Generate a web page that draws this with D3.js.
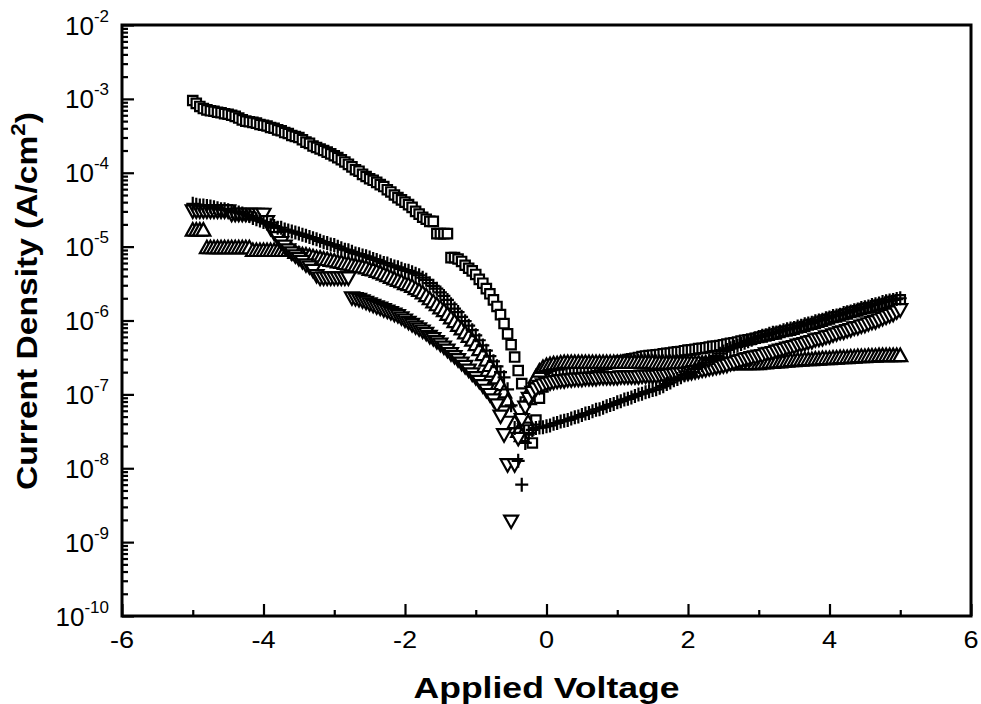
<!DOCTYPE html>
<html><head><meta charset="utf-8">
<script src="https://cdn.jsdelivr.net/npm/d3@7/dist/d3.min.js"></script>
<style>
body{margin:0;background:#fff}
svg{display:block}
text{font-family:"Liberation Sans",Arial,Helvetica,sans-serif;fill:#000}
</style>
</head><body>
<svg id="chart" width="981" height="704"></svg>
<script>
// Applied voltage sweep (V), -5 V to +5 V in 0.05 V steps
const voltage = d3.range(201).map(i => +(-5 + i * 0.05).toFixed(2));

// Current density (A/cm^2), one value per voltage
const squareJ = [
  9.5e-4,8.7e-4,7.9e-4,7.4e-4,7.1e-4,6.9e-4,6.8e-4,6.6e-4,6.5e-4,6.3e-4,6.2e-4,6.0e-4,5.8e-4,5.5e-4,5.2e-4,5.0e-4,4.9e-4,4.8e-4,4.7e-4,4.5e-4,
  4.4e-4,4.3e-4,4.1e-4,4.0e-4,3.8e-4,3.7e-4,3.5e-4,3.4e-4,3.2e-4,3.1e-4,3.0e-4,2.8e-4,2.6e-4,2.5e-4,2.3e-4,2.2e-4,2.1e-4,2.0e-4,1.9e-4,1.8e-4,
  1.7e-4,1.6e-4,1.5e-4,1.4e-4,1.3e-4,1.2e-4,1.1e-4,1.05e-4,9.5e-5,8.9e-5,8.3e-5,7.9e-5,7.4e-5,6.9e-5,6.5e-5,5.9e-5,5.5e-5,5.0e-5,4.6e-5,4.3e-5,
  4.0e-5,3.7e-5,3.4e-5,3.0e-5,2.75e-5,2.5e-5,2.35e-5,2.2e-5,2.2e-5,1.5e-5,1.5e-5,1.5e-5,1.5e-5,7.1e-6,7.1e-6,6.8e-6,6.3e-6,5.6e-6,5.1e-6,4.7e-6,
  4.2e-6,3.6e-6,3.2e-6,2.7e-6,2.3e-6,1.9e-6,1.55e-6,1.2e-6,9.1e-7,6.6e-7,4.7e-7,3.2e-7,2.1e-7,1.4e-7,7.9e-8,3.3e-8,2.2e-8,4.5e-8,8.9e-8,1.26e-7,
  1.51e-7,1.62e-7,1.74e-7,1.82e-7,1.91e-7,1.95e-7,2.0e-7,2.04e-7,2.09e-7,2.14e-7,2.19e-7,2.24e-7,2.29e-7,2.34e-7,2.4e-7,2.45e-7,2.5e-7,2.57e-7,2.63e-7,2.69e-7,
  2.75e-7,2.82e-7,2.88e-7,2.95e-7,3.02e-7,3.09e-7,3.16e-7,3.24e-7,3.31e-7,3.35e-7,3.39e-7,3.43e-7,3.47e-7,3.55e-7,3.6e-7,3.63e-7,3.72e-7,3.76e-7,3.8e-7,3.9e-7,
  3.98e-7,4.0e-7,4.07e-7,4.17e-7,4.2e-7,4.27e-7,4.37e-7,4.47e-7,4.5e-7,4.57e-7,4.68e-7,4.79e-7,4.9e-7,5.0e-7,5.1e-7,5.25e-7,5.4e-7,5.5e-7,5.6e-7,5.75e-7,
  5.9e-7,6.0e-7,6.2e-7,6.3e-7,6.5e-7,6.6e-7,6.9e-7,7.1e-7,7.2e-7,7.4e-7,7.6e-7,7.9e-7,8.1e-7,8.3e-7,8.7e-7,8.9e-7,9.1e-7,9.5e-7,9.8e-7,1.02e-6,
  1.05e-6,1.1e-6,1.12e-6,1.15e-6,1.2e-6,1.23e-6,1.29e-6,1.32e-6,1.35e-6,1.41e-6,1.45e-6,1.48e-6,1.51e-6,1.58e-6,1.62e-6,1.66e-6,1.7e-6,1.78e-6,1.82e-6,1.86e-6,
  1.9e-6
];
const plusJ = [
  3.8e-5,3.7e-5,3.6e-5,3.6e-5,3.55e-5,3.5e-5,3.4e-5,3.3e-5,3.2e-5,3.2e-5,3.1e-5,3.0e-5,2.95e-5,2.9e-5,2.8e-5,2.7e-5,2.6e-5,2.45e-5,2.35e-5,2.25e-5,
  2.15e-5,2.05e-5,1.95e-5,1.9e-5,1.8e-5,1.8e-5,1.7e-5,1.65e-5,1.6e-5,1.55e-5,1.5e-5,1.45e-5,1.4e-5,1.35e-5,1.3e-5,1.26e-5,1.2e-5,1.15e-5,1.12e-5,1.07e-5,
  1.05e-5,1.0e-5,9.5e-6,9.1e-6,8.9e-6,8.5e-6,8.1e-6,7.9e-6,7.6e-6,7.4e-6,7.1e-6,6.8e-6,6.6e-6,6.3e-6,6.0e-6,5.9e-6,5.6e-6,5.4e-6,5.25e-6,5.0e-6,
  4.8e-6,4.7e-6,4.5e-6,4.3e-6,4.1e-6,3.8e-6,3.55e-6,3.2e-6,2.95e-6,2.7e-6,2.4e-6,2.15e-6,1.9e-6,1.66e-6,1.45e-6,1.3e-6,1.12e-6,9.8e-7,8.5e-7,7.4e-7,
  6.3e-7,5.4e-7,4.6e-7,3.9e-7,3.3e-7,2.8e-7,2.4e-7,2.0e-7,1.7e-7,1.17e-7,7.1e-8,3.5e-8,1.26e-8,6.0e-9,2.2e-8,3.0e-8,3.3e-8,3.5e-8,3.55e-8,3.6e-8,
  3.7e-8,3.8e-8,4.0e-8,4.1e-8,4.3e-8,4.4e-8,4.5e-8,4.7e-8,4.9e-8,5.0e-8,5.25e-8,5.5e-8,5.6e-8,5.9e-8,6.2e-8,6.3e-8,6.6e-8,6.9e-8,7.2e-8,7.4e-8,
  7.8e-8,8.1e-8,8.5e-8,8.7e-8,9.1e-8,9.5e-8,1.0e-7,1.02e-7,1.07e-7,1.1e-7,1.15e-7,1.17e-7,1.23e-7,1.29e-7,1.38e-7,1.45e-7,1.55e-7,1.62e-7,1.7e-7,1.82e-7,
  1.9e-7,2.0e-7,2.2e-7,2.35e-7,2.5e-7,2.7e-7,2.9e-7,3.1e-7,3.3e-7,3.55e-7,3.8e-7,4.0e-7,4.2e-7,4.4e-7,4.6e-7,4.8e-7,5.0e-7,5.25e-7,5.5e-7,5.75e-7,
  6.0e-7,6.2e-7,6.3e-7,6.6e-7,6.8e-7,6.9e-7,7.1e-7,7.4e-7,7.6e-7,7.8e-7,7.9e-7,8.3e-7,8.5e-7,8.9e-7,9.1e-7,9.3e-7,9.8e-7,1.0e-6,1.02e-6,1.07e-6,
  1.1e-6,1.15e-6,1.17e-6,1.2e-6,1.26e-6,1.29e-6,1.32e-6,1.38e-6,1.41e-6,1.48e-6,1.51e-6,1.55e-6,1.62e-6,1.66e-6,1.7e-6,1.78e-6,1.82e-6,1.86e-6,1.9e-6,1.95e-6,
  2.0e-6
];
const upTriangleJ = [
  1.7e-5,1.7e-5,1.7e-5,1.7e-5,9.8e-6,9.8e-6,9.8e-6,9.8e-6,9.8e-6,9.8e-6,9.8e-6,9.8e-6,9.8e-6,9.8e-6,9.8e-6,9.8e-6,9.8e-6,9.0e-6,9.0e-6,9.0e-6,
  9.0e-6,9.0e-6,9.0e-6,9.0e-6,9.0e-6,9.0e-6,9.0e-6,9.0e-6,9.0e-6,8.5e-6,8.1e-6,7.9e-6,7.8e-6,7.6e-6,7.4e-6,7.2e-6,7.1e-6,6.9e-6,6.8e-6,6.6e-6,
  6.5e-6,6.3e-6,6.2e-6,6.0e-6,5.9e-6,5.75e-6,5.6e-6,5.5e-6,5.4e-6,5.25e-6,5.0e-6,4.9e-6,4.7e-6,4.5e-6,4.3e-6,4.1e-6,3.9e-6,3.7e-6,3.55e-6,3.4e-6,
  3.2e-6,3.1e-6,2.95e-6,2.75e-6,2.6e-6,2.4e-6,2.2e-6,2.0e-6,1.82e-6,1.66e-6,1.51e-6,1.38e-6,1.23e-6,1.1e-6,9.8e-7,8.7e-7,7.8e-7,6.9e-7,6.2e-7,5.5e-7,
  4.8e-7,4.1e-7,3.5e-7,2.95e-7,2.5e-7,2.1e-7,1.7e-7,1.38e-7,1.1e-7,8.3e-8,6.0e-8,4.2e-8,3.2e-8,2.8e-8,5.0e-8,8.9e-8,1.32e-7,1.74e-7,2.1e-7,2.35e-7,
  2.5e-7,2.57e-7,2.63e-7,2.63e-7,2.7e-7,2.75e-7,2.75e-7,2.75e-7,2.75e-7,2.75e-7,2.75e-7,2.75e-7,2.75e-7,2.75e-7,2.75e-7,2.75e-7,2.75e-7,2.75e-7,2.75e-7,2.75e-7,
  2.75e-7,2.75e-7,2.75e-7,2.75e-7,2.75e-7,2.75e-7,2.75e-7,2.75e-7,2.75e-7,2.75e-7,2.75e-7,2.7e-7,2.7e-7,2.7e-7,2.7e-7,2.7e-7,2.7e-7,2.7e-7,2.7e-7,2.7e-7,
  2.7e-7,2.7e-7,2.7e-7,2.7e-7,2.7e-7,2.7e-7,2.7e-7,2.7e-7,2.7e-7,2.7e-7,2.7e-7,2.65e-7,2.65e-7,2.65e-7,2.65e-7,2.65e-7,2.65e-7,2.65e-7,2.65e-7,2.65e-7,
  2.65e-7,2.7e-7,2.7e-7,2.75e-7,2.75e-7,2.8e-7,2.8e-7,2.85e-7,2.85e-7,2.9e-7,2.9e-7,2.95e-7,2.95e-7,3.0e-7,3.0e-7,3.0e-7,3.05e-7,3.05e-7,3.1e-7,3.1e-7,
  3.1e-7,3.15e-7,3.15e-7,3.2e-7,3.2e-7,3.2e-7,3.25e-7,3.25e-7,3.3e-7,3.3e-7,3.3e-7,3.35e-7,3.35e-7,3.35e-7,3.4e-7,3.4e-7,3.4e-7,3.4e-7,3.4e-7,3.4e-7,
  3.4e-7
];
const downTriangleJ = [
  3.0e-5,3.0e-5,3.0e-5,3.0e-5,3.0e-5,3.0e-5,3.0e-5,3.0e-5,3.0e-5,3.0e-5,3.0e-5,2.7e-5,2.7e-5,2.7e-5,2.7e-5,2.7e-5,2.7e-5,2.7e-5,2.7e-5,2.7e-5,
  2.7e-5,2.15e-5,1.75e-5,1.5e-5,1.3e-5,1.12e-5,1.0e-5,8.9e-6,8.1e-6,7.4e-6,6.8e-6,6.2e-6,5.6e-6,5.25e-6,4.7e-6,4.0e-6,3.7e-6,3.7e-6,3.7e-6,3.7e-6,
  3.7e-6,3.7e-6,3.7e-6,3.7e-6,3.7e-6,2.0e-6,1.95e-6,1.9e-6,1.82e-6,1.74e-6,1.66e-6,1.58e-6,1.51e-6,1.45e-6,1.38e-6,1.32e-6,1.26e-6,1.2e-6,1.15e-6,1.07e-6,
  1.0e-6,9.3e-7,8.7e-7,8.1e-7,7.6e-7,7.1e-7,6.6e-7,6.0e-7,5.6e-7,5.1e-7,4.7e-7,4.3e-7,3.9e-7,3.5e-7,3.2e-7,2.9e-7,2.6e-7,2.35e-7,2.1e-7,1.86e-7,
  1.66e-7,1.48e-7,1.29e-7,1.12e-7,9.8e-8,8.3e-8,7.1e-8,5.0e-8,2.8e-8,1.1e-8,1.9e-9,1.1e-8,2.5e-8,4.5e-8,6.6e-8,8.7e-8,1.05e-7,1.17e-7,1.26e-7,1.32e-7,
  1.38e-7,1.41e-7,1.45e-7,1.48e-7,1.51e-7,1.51e-7,1.55e-7,1.55e-7,1.58e-7,1.58e-7,1.58e-7,1.62e-7,1.62e-7,1.62e-7,1.62e-7,1.66e-7,1.66e-7,1.66e-7,1.66e-7,1.66e-7,
  1.66e-7,1.7e-7,1.7e-7,1.7e-7,1.7e-7,1.7e-7,1.7e-7,1.74e-7,1.74e-7,1.74e-7,1.74e-7,1.74e-7,1.78e-7,1.78e-7,1.78e-7,1.82e-7,1.82e-7,1.86e-7,1.86e-7,1.9e-7,
  1.9e-7,1.95e-7,2.0e-7,2.04e-7,2.1e-7,2.14e-7,2.2e-7,2.24e-7,2.3e-7,2.34e-7,2.4e-7,2.45e-7,2.57e-7,2.63e-7,2.75e-7,2.82e-7,2.95e-7,3.0e-7,3.1e-7,3.16e-7,
  3.24e-7,3.3e-7,3.47e-7,3.55e-7,3.63e-7,3.8e-7,3.9e-7,4.0e-7,4.17e-7,4.27e-7,4.37e-7,4.57e-7,4.68e-7,4.79e-7,5.0e-7,5.1e-7,5.4e-7,5.5e-7,5.6e-7,5.9e-7,
  6.0e-7,6.3e-7,6.5e-7,6.8e-7,6.9e-7,7.2e-7,7.4e-7,7.8e-7,7.9e-7,8.3e-7,8.5e-7,8.9e-7,9.3e-7,9.5e-7,1.0e-6,1.05e-6,1.1e-6,1.15e-6,1.2e-6,1.29e-6,
  1.38e-6
];

// Axis ticks
const xMajorTicks = [-6, -4, -2, 0, 2, 4, 6];
const xMinorTicks = [-5, -3, -1, 1, 3, 5];
const yDecadeExponents = [-2, -3, -4, -5, -6, -7, -8, -9, -10];
const xTitle = "Applied Voltage";
const yTitleMain = "Current Density (A/cm";
const yTitleSup = "2";

// ---------------------------------------------------------------
const svg = d3.select("#chart");
const L = 122, R = 971, T = 25, B = 616;
const x = d3.scaleLinear().domain([-6, 6]).range([L, R]);
const y = d3.scaleLog().domain([1e-10, 1e-2]).range([B, T]);

const yMajor = yDecadeExponents.map(e => Math.pow(10, e));
const yMinor = [];
yDecadeExponents.slice(1).forEach(e => { for (let k = 2; k <= 9; k++) yMinor.push(k * Math.pow(10, e)); });

// Axes with inward ticks
function styleAxis(g) {
  g.select(".domain").remove();
  g.selectAll(".tick line").attr("stroke", "#000").attr("stroke-width", 2.2);
  g.selectAll(".tick text").remove();
}
svg.append("g").attr("transform", `translate(${L},0)`)
  .call(d3.axisLeft(y).tickValues(yMajor).tickSizeInner(-12).tickSizeOuter(0)).call(styleAxis);
svg.append("g").attr("transform", `translate(${L},0)`)
  .call(d3.axisLeft(y).tickValues(yMinor).tickSizeInner(-6).tickSizeOuter(0)).call(styleAxis);
svg.append("g").attr("transform", `translate(0,${B})`)
  .call(d3.axisBottom(x).tickValues(xMajorTicks).tickSizeInner(-12).tickSizeOuter(0)).call(styleAxis);
svg.append("g").attr("transform", `translate(0,${B})`)
  .call(d3.axisBottom(x).tickValues(xMinorTicks).tickSizeInner(-6).tickSizeOuter(0)).call(styleAxis);

// Frame
svg.append("rect").attr("x", L).attr("y", T).attr("width", R - L).attr("height", B - T)
  .attr("fill", "none").attr("stroke", "#000").attr("stroke-width", 3);

// Y tick labels 10^n
yDecadeExponents.forEach(e => {
  const t = svg.append("text").attr("x", 109).attr("y", y(Math.pow(10, e)) + 9.5)
    .attr("text-anchor", "end").attr("font-size", 26);
  t.append("tspan").text("10");
  t.append("tspan").attr("dy", -13).attr("font-size", 17).text(String(e));
});

// X tick labels
xMajorTicks.forEach(v => {
  svg.append("text").attr("transform", `translate(${x(v)},648) scale(1.18,1)`)
    .attr("text-anchor", "middle").attr("font-size", 23).text(String(v));
});

// Axis titles
svg.append("text").attr("x", (L + R) / 2).attr("y", 698).attr("text-anchor", "middle")
  .attr("font-size", 30).attr("font-weight", "bold")
  .attr("textLength", 266).attr("lengthAdjust", "spacingAndGlyphs").text(xTitle);
const yt = svg.append("text").attr("transform", "translate(37,301) rotate(-90)")
  .attr("text-anchor", "middle").attr("font-size", 30).attr("font-weight", "bold")
  .attr("textLength", 378).attr("lengthAdjust", "spacingAndGlyphs");
yt.append("tspan").text(yTitleMain);
yt.append("tspan").attr("dy", -12).attr("font-size", 20).text(yTitleSup);
yt.append("tspan").attr("dy", 12).text(")");

// Markers
const shapes = {
  square: "M-4.7,-4.7H4.7V4.7H-4.7Z",
  up: "M0,-6.5L7,6L-7,6Z",
  down: "M0,6.5L7,-6L-7,-6Z",
  plus: "M-6.5,0H6.5M0,-7V7"
};
const series = [
  {values: squareJ, shape: "square", fill: "#fff"},
  {values: upTriangleJ, shape: "up", fill: "#fff"},
  {values: downTriangleJ, shape: "down", fill: "#fff"},
  {values: plusJ, shape: "plus", fill: "none"}
];
const marks = svg.append("g");
series.forEach(s => {
  marks.append("g").selectAll("path")
    .data(voltage.map((v, i) => ({v, j: s.values[i]})))
    .join("path")
    .attr("transform", d => `translate(${x(d.v)},${y(d.j)})`)
    .attr("d", shapes[s.shape])
    .attr("fill", s.fill)
    .attr("stroke", "#000")
    .attr("stroke-width", 2.2)
    .attr("stroke-linejoin", "miter");
});
</script>
</body></html>
